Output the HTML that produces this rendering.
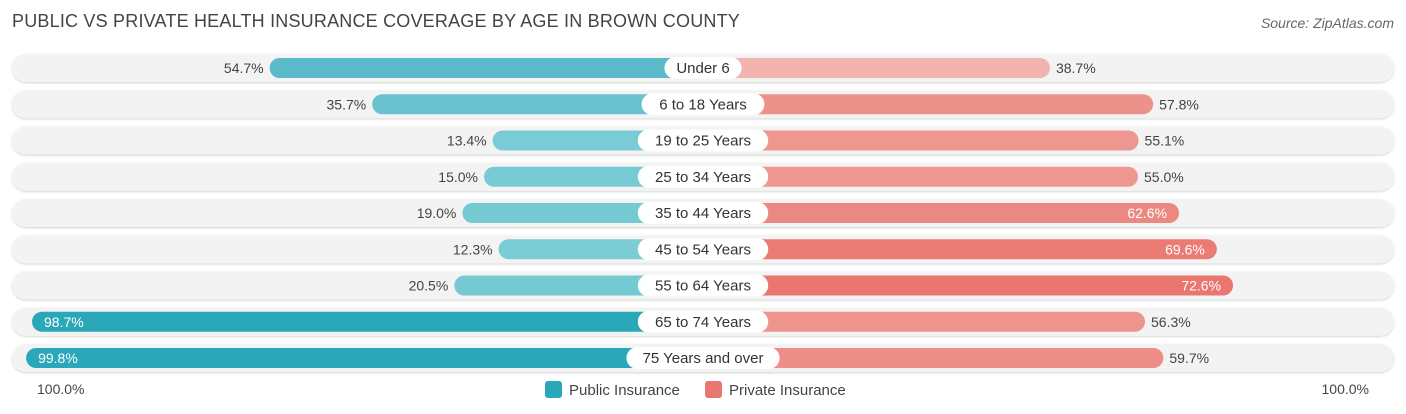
<!DOCTYPE html>
<html><head><meta charset="utf-8"><style>
body{margin:0;width:1406px;height:414px;background:#fff;font-family:"Liberation Sans",sans-serif;overflow:hidden;position:relative}
.t{position:absolute;left:12px;top:11px;font-size:18px;color:#444;letter-spacing:0.2px}
.s{position:absolute;right:12px;top:15px;font-size:14px;color:#666;font-style:italic}
</style></head><body>
<div class="t">PUBLIC VS PRIVATE HEALTH INSURANCE COVERAGE BY AGE IN BROWN COUNTY</div>
<div class="s">Source: ZipAtlas.com</div>
<svg id="c" width="1406" height="414" style="position:absolute;left:0;top:0"></svg>
<script>
const categories=["Under 6","6 to 18 Years","19 to 25 Years","25 to 34 Years","35 to 44 Years","45 to 54 Years","55 to 64 Years","65 to 74 Years","75 Years and over"];
const publicVals=[54.7,35.7,13.4,15.0,19.0,12.3,20.5,98.7,99.8];
const privateVals=[38.7,57.8,55.1,55.0,62.6,69.6,72.6,56.3,59.7];
const svg=document.getElementById('c');const NS='http://www.w3.org/2000/svg';
const cx=703,off=138,k=5.4,y0=68,dy=36.25;
function mk(t,a,p){const e=document.createElementNS(NS,t);for(const q in a)e.setAttribute(q,a[q]);(p||svg).appendChild(e);return e;}
function mix(a,b,t){return 'rgb('+a.map((v,i)=>Math.round(v+(b[i]-v)*t)).join(',')+')';}
const defs=mk('defs',{});const f=mk('filter',{id:'sh',x:'-5%',y:'-30%',width:'110%',height:'160%'},defs);
mk('feDropShadow',{dx:0,dy:1,stdDeviation:1,'flood-color':'#000','flood-opacity':0.18},f);
categories.forEach((c,i)=>{
 const y=y0+i*dy;
 const g=mk('g',{});
 
 mk('rect',{x:12,y:y-14,width:1382,height:28,rx:14,fill:'#f3f3f3',filter:'url(#sh)'},g);
 const pv=publicVals[i],rv=privateVals[i];
 const pw=off+k*pv,rw=off+k*rv;
 const pb=mk('rect',{x:cx-pw,y:y-10,width:pw,height:20,rx:10,fill:pv>80?'#2aa7b8':mix([124,205,214],[86,184,200],(pv-10)/50)},g);
 
 const rb=mk('rect',{x:cx,y:y-10,width:rw,height:20,rx:10,fill:mix([243,180,176],[233,118,111],Math.max(0,(rv-38)/35))},g);
 
 const pin=pv>80;
 const pt=mk('text',{x:pin?cx-pw+12:cx-pw-6,y:y+5,'font-size':14,fill:pin?'#fff':'#444','text-anchor':pin?'start':'end'},g);pt.textContent=pv.toFixed(1)+'%';
 
 const rin=rv>60;
 const rt=mk('text',{x:rin?cx+rw-12:cx+rw+6,y:y+5,'font-size':14,fill:rin?'#fff':'#444','text-anchor':rin?'end':'start'},g);rt.textContent=rv.toFixed(1)+'%';
 
 const lw=c.length*7.6+24;
 const lb=mk('rect',{x:cx-lw/2,y:y-11,width:lw,height:22,rx:11,fill:'#fff'},g);
 
 const lt=mk('text',{x:cx,y:y+5,'font-size':15,fill:'#333','text-anchor':'middle'},g);lt.textContent=c;
 
});
const ly=389;
const a1=mk('text',{x:37,y:ly+5,'font-size':14,fill:'#444'});a1.textContent='100.0%';

const a2=mk('text',{x:1369,y:ly+5,'font-size':14,fill:'#444','text-anchor':'end'});a2.textContent='100.0%';

const l1=mk('rect',{x:545,y:ly-8,width:17,height:17,rx:3,fill:'#2aa7b8'});

const t1=mk('text',{x:569,y:ly+6,'font-size':15,fill:'#444'});t1.textContent='Public Insurance';

const l2=mk('rect',{x:705,y:ly-8,width:17,height:17,rx:3,fill:'#e8776f'});

const t2=mk('text',{x:729,y:ly+6,'font-size':15,fill:'#444'});t2.textContent='Private Insurance';

</script>
</body></html>
